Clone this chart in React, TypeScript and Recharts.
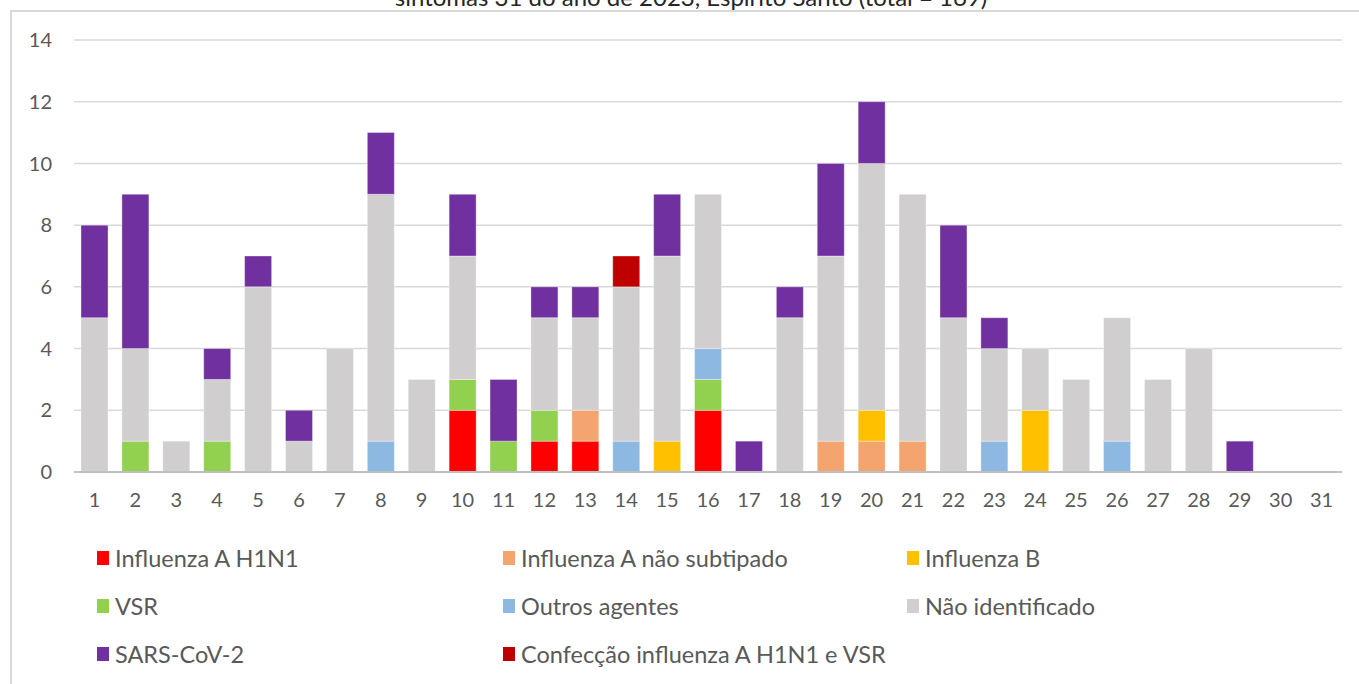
import React from "react";
import { BarChart, Bar, XAxis, YAxis, CartesianGrid, Legend } from "recharts";

const weeks = ["1","2","3","4","5","6","7","8","9","10","11","12","13","14","15","16","17","18","19","20","21","22","23","24","25","26","27","28","29","30","31"];
const h1n1 =      [0,0,0,0,0,0,0,0,0,2,0,1,1,0,0,2,0,0,0,0,0,0,0,0,0,0,0,0,0,0,0];
const aNaoSub =   [0,0,0,0,0,0,0,0,0,0,0,0,1,0,0,0,0,0,1,1,1,0,0,0,0,0,0,0,0,0,0];
const fluB =      [0,0,0,0,0,0,0,0,0,0,0,0,0,0,1,0,0,0,0,1,0,0,0,2,0,0,0,0,0,0,0];
const vsr =       [0,1,0,1,0,0,0,0,0,1,1,1,0,0,0,1,0,0,0,0,0,0,0,0,0,0,0,0,0,0,0];
const outros =    [0,0,0,0,0,0,0,1,0,0,0,0,0,1,0,1,0,0,0,0,0,0,1,0,0,1,0,0,0,0,0];
const naoIdent =  [5,3,1,2,6,1,4,8,3,4,0,3,3,5,6,5,0,5,6,8,8,5,3,2,3,4,3,4,0,0,0];
const sarsCov2 =  [3,5,0,1,1,1,0,2,0,2,2,1,1,0,2,0,1,1,3,2,0,3,1,0,0,0,0,0,1,0,0];
const coinf =     [0,0,0,0,0,0,0,0,0,0,0,0,0,1,0,0,0,0,0,0,0,0,0,0,0,0,0,0,0,0,0];
const yTicks = [0, 2, 4, 6, 8, 10, 12, 14];

const titleText = "sintomas 31 do ano de 2023, Espírito Santo (total = 169)";

const series = [
  { key: "h1n1", name: "Influenza A H1N1", color: "#FF0000", values: h1n1 },
  { key: "aNaoSub", name: "Influenza A não subtipado", color: "#F4A46E", values: aNaoSub },
  { key: "fluB", name: "Influenza B", color: "#FFC000", values: fluB },
  { key: "vsr", name: "VSR", color: "#92D050", values: vsr },
  { key: "outros", name: "Outros agentes", color: "#8DB8E2", values: outros },
  { key: "naoIdent", name: "Não identificado", color: "#D0CECE", values: naoIdent },
  { key: "sars", name: "SARS-CoV-2", color: "#7030A0", values: sarsCov2 },
  { key: "coinf", name: "Confecção influenza A H1N1 e VSR", color: "#C00000", values: coinf },
];

const data = weeks.map((w, i) => {
  const row: Record<string, any> = { week: w };
  series.forEach((s) => { row[s.key] = s.values[i]; });
  return row;
});

const FONT = "Lato, 'Open Sans', sans-serif";

const renderLegend = () => (
  <div style={{ position: "relative", width: 1359, height: 0, fontFamily: FONT }}>
    {series.map((s, i) => {
      const col = i % 3;
      const row = Math.floor(i / 3);
      const lefts = [97, 503, 907];
      return (
        <div key={s.key} style={{ position: "absolute", left: lefts[col], top: row * 48, display: "flex", alignItems: "center", height: 24 }}>
          <div style={{ width: 12, height: 14, background: s.color, marginRight: 6 }} />
          <span style={{ fontSize: 23.5, color: "#595959", whiteSpace: "nowrap", lineHeight: "24px" }}>{s.name}</span>
        </div>
      );
    })}
  </div>
);

export default function App() {
  return (
    <div style={{ position: "absolute", left: 0, top: 0, width: 1359, height: 684, overflow: "hidden", background: "#fff" }}>
      <div style={{ position: "absolute", left: 0, top: -15, width: 1359, textAlign: "center", fontFamily: FONT, fontSize: 24, color: "#262626", whiteSpace: "nowrap", lineHeight: "24px", paddingLeft: 23, boxSizing: "border-box" }}>
        {titleText}
      </div>
      <div style={{ position: "absolute", left: 10, top: 10, width: 1349, height: 674, borderLeft: "2px solid #D9D9D9", borderTop: "2px solid #D9D9D9" }} />
      <div style={{ position: "absolute", left: 0, top: 0 }}>
        <BarChart width={1359} height={684} data={data} margin={{ top: 40, right: 17, left: 0, bottom: 172 }} barSize={27}>
          <CartesianGrid vertical={false} stroke="#D9D9D9" strokeWidth={1.5} />
          <XAxis dataKey="week" axisLine={{ stroke: "#BFBFBF", strokeWidth: 2 }} tickLine={false} tickSize={0} tickMargin={21} height={40}
            tick={{ fill: "#595959", fontSize: 20, fontFamily: FONT }} interval={0} />
          <YAxis domain={[0, 14]} ticks={yTicks} axisLine={false} tickLine={false} tickSize={0} tickMargin={22} width={74}
            tick={{ fill: "#595959", fontSize: 20, fontFamily: FONT }} />
          <Legend verticalAlign="bottom" content={renderLegend} wrapperStyle={{ position: "absolute", top: 546, left: 0, width: 1359, height: 0 }} />
          {series.map((s) => (
            <Bar key={s.key} dataKey={s.key} name={s.name} stackId="a" fill={s.color} stroke="#ffffff" strokeOpacity={0.35} strokeWidth={1} isAnimationActive={false} />
          ))}
        </BarChart>
      </div>
    </div>
  );
}
